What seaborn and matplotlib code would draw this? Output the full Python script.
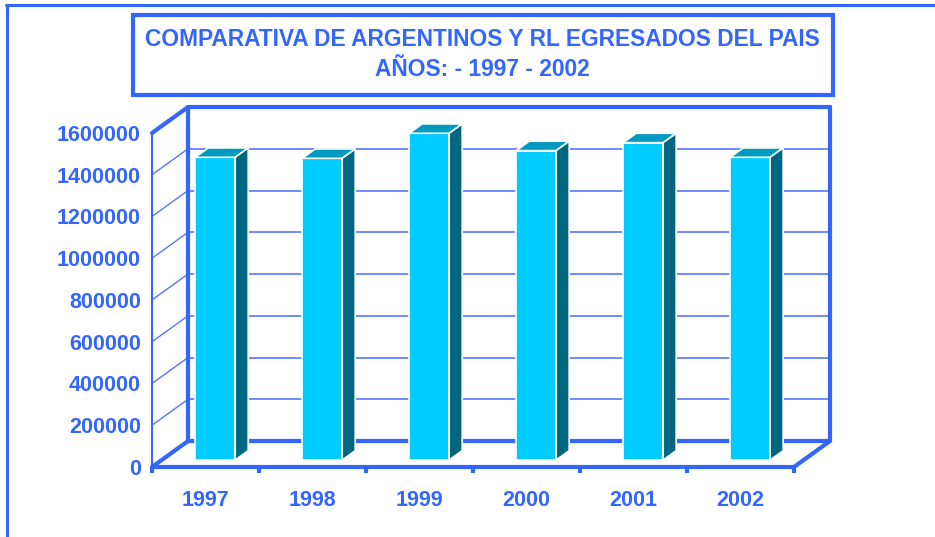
# Comparativa de argentinos y RL egresados del pais, 1997 - 2002
# Excel-style 3D column chart rebuilt with seaborn + matplotlib patches

import pandas as pd
import matplotlib
matplotlib.use("Agg")
import matplotlib.pyplot as plt
from matplotlib.patches import Polygon, Rectangle
import seaborn as sns

# Data
years = ['1997', '1998', '1999', '2000', '2001', '2002']
egresados = [1450000, 1445000, 1565000, 1482000, 1520000, 1450000]
y_ticks = [0, 200000, 400000, 600000, 800000, 1000000, 1200000, 1400000, 1600000]
title_1 = 'COMPARATIVA DE ARGENTINOS Y RL EGRESADOS DEL PAIS'
title_2 = 'AÑOS: - 1997 - 2002'

BLUE = '#3366ff'
GRID = '#5577ff'
FRONT = '#00ccff'
TOP = '#0099c0'
SIDE = '#006680'

YMAX = 1600000
DX = 0.337           # depth of the floor in category units
DY = 124500          # depth of the floor in value units
BAR_F = 0.27         # where the bar front sits inside the depth
BAR_D = 0.36         # how deep the bar is

sns.set_style('white')
plt.rcParams['font.family'] = ['Liberation Sans', 'DejaVu Sans']
plt.rcParams['font.weight'] = 'bold'

df = pd.DataFrame({'Year': years, 'Egresados': egresados})

fig = plt.figure(figsize=(9.35, 5.37), dpi=100)
ax = fig.add_axes([152 / 935, 70 / 537, 678 / 935, 360 / 537])

# front faces of the bars
sns.barplot(data=df, x='Year', y='Egresados', color=FRONT, saturation=1,
            width=0.374, edgecolor='white', linewidth=1.2, ax=ax, zorder=4)

base = BAR_F * DY
for p in ax.patches:
    p.set_x(p.get_x() + BAR_F * DX)
    p.set_y(base)
    x0 = p.get_x()
    x1 = x0 + p.get_width()
    top = base + p.get_height()
    ddx, ddy = BAR_D * DX, BAR_D * DY
    ax.add_patch(Polygon([(x0, top), (x1, top), (x1 + ddx, top + ddy), (x0 + ddx, top + ddy)],
                         closed=True, facecolor=TOP, edgecolor='white', linewidth=1.2, zorder=4))
    ax.add_patch(Polygon([(x1, base), (x1 + ddx, base + ddy), (x1 + ddx, top + ddy), (x1, top)],
                         closed=True, facecolor=SIDE, edgecolor='white', linewidth=1.2, zorder=4))

left, right = -0.5, len(years) - 0.5

# gridlines on back wall and left wall
for v in y_ticks[1:-1]:
    ax.plot([left + DX, right + DX], [v + DY, v + DY], color=GRID, lw=1.2, zorder=1)
    ax.plot([left, left + DX], [v, v + DY], color=GRID, lw=1.0, zorder=1)

thick = dict(color=BLUE, lw=3.0, solid_capstyle='round', clip_on=False)
ax.plot([left + DX, right + DX], [DY, DY], zorder=2, **thick)                # back floor
ax.plot([left + DX, right + DX], [YMAX + DY, YMAX + DY], zorder=2, **thick)  # back top
ax.plot([left + DX, left + DX], [DY, YMAX + DY], zorder=2, **thick)          # back left
ax.plot([right + DX, right + DX], [DY, YMAX + DY], zorder=2, **thick)        # back right
ax.plot([left, left + DX], [YMAX, YMAX + DY], zorder=2, **thick)             # top left diagonal
ax.plot([left, left + DX], [0, DY], zorder=6, **thick)                       # floor left
ax.plot([right, right + DX], [0, DY], zorder=6, **thick)                     # floor right
ax.plot([left, right], [0, 0], zorder=6, **thick)                            # front floor
ax.plot([left, left], [0, YMAX], color=BLUE, lw=1.5, zorder=6, clip_on=False)  # value axis

ax.set_xlim(left, right + DX)
ax.set_ylim(0, YMAX + DY)
for s in ax.spines.values():
    s.set_visible(False)

ax.set_yticks(y_ticks)
ax.set_yticklabels([str(v) for v in y_ticks])
ax.set_xticks(range(len(years)))
ax.set_xticklabels(years)
ax.set_xticks([i - 0.5 for i in range(len(years) + 1)], minor=True)
ax.tick_params(axis='y', length=0, pad=8, labelsize=15.5, labelcolor=BLUE)
ax.tick_params(axis='x', which='major', bottom=False, pad=13, labelsize=15.5, labelcolor=BLUE)
ax.tick_params(axis='x', which='minor', bottom=True, length=4, width=3, color=BLUE, direction='out')
ax.set_xlabel('')
ax.set_ylabel('')
ax.grid(False)

# title box
fig.patches.append(Rectangle((133 / 935, 1 - 95 / 537), 700 / 935, 80 / 537,
                             transform=fig.transFigure, facecolor='white',
                             edgecolor=BLUE, linewidth=3))
fig.text(482 / 935, 1 - 40 / 537, title_1, ha='center', va='center',
         fontsize=16.4, fontweight='bold', color=BLUE)
fig.text(482 / 935, 1 - 70 / 537, title_2, ha='center', va='center',
         fontsize=16.4, fontweight='bold', color=BLUE)

# outer frame (top and left edges)
fig.add_artist(plt.Line2D([6 / 935, 1], [1 - 5 / 537, 1 - 5 / 537], color=BLUE, lw=2.2,
                          transform=fig.transFigure))
fig.add_artist(plt.Line2D([7 / 935, 7 / 935], [0, 1 - 5 / 537], color=BLUE, lw=2.2,
                          transform=fig.transFigure))

fig.savefig('out.png', dpi=100, facecolor='white')
